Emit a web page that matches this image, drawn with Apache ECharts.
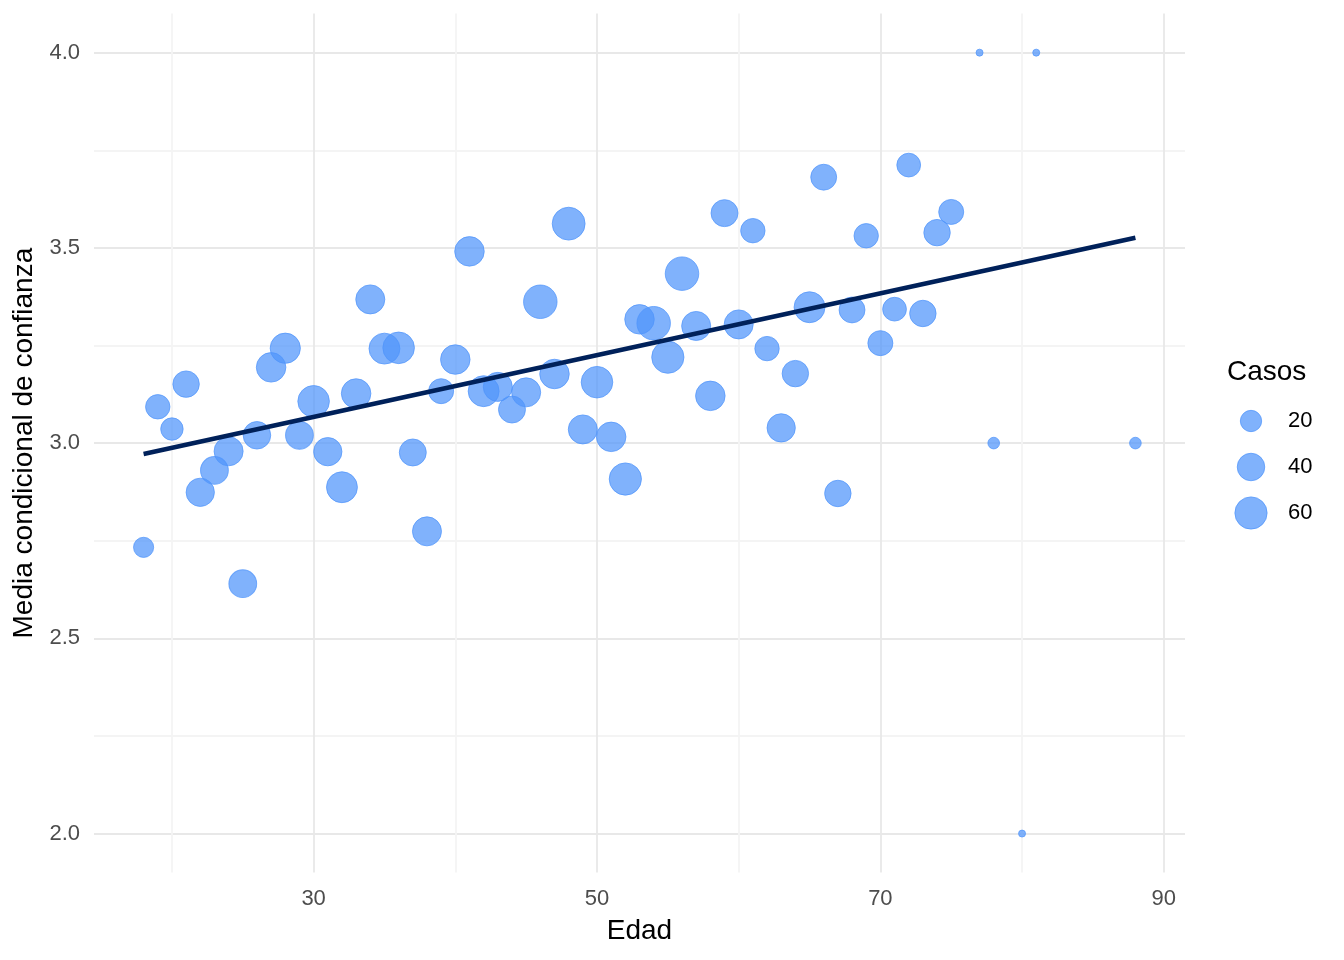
<!DOCTYPE html>
<html>
<head>
<meta charset="utf-8">
<title>Media condicional de confianza por edad</title>
<script src="https://cdn.jsdelivr.net/npm/echarts@6/dist/echarts.min.js"></script>
<style>
  html, body { margin: 0; padding: 0; background: #fff; }
  #chart { width: 1344px; height: 960px; }
</style>
</head>
<body>
<div id="chart"></div>
<script>
'use strict';

// Datos
// --------------------------------------------------------------------
const edad = [
  18, 19, 20, 21, 22, 23, 24, 25, 26, 27, 28, 29, 30, 31, 32, 33, 34, 35, 36, 37,
  38, 39, 40, 41, 42, 43, 44, 45, 46, 47, 48, 49, 50, 51, 52, 53, 54, 55, 56, 57,
  58, 59, 60, 61, 62, 63, 64, 65, 66, 67, 68, 69, 70, 71, 72, 73, 74, 75, 77, 78,
  80, 81, 88
];
const media = [
  2.733, 3.093, 3.036, 3.151, 2.874, 2.930, 2.979, 2.640, 3.020, 3.194,
  3.243, 3.020, 3.107, 2.978, 2.887, 3.127, 3.368, 3.242, 3.244, 2.976,
  2.774, 3.133, 3.214, 3.491, 3.133, 3.144, 3.086, 3.130, 3.362, 3.177,
  3.562, 3.035, 3.156, 3.016, 2.908, 3.317, 3.307, 3.220, 3.434, 3.300,
  3.121, 3.589, 3.304, 3.544, 3.242, 3.039, 3.178, 3.348, 3.681, 2.871,
  3.341, 3.531, 3.256, 3.343, 3.712, 3.332, 3.539, 3.592, 4.000, 3.000,
  2.000, 4.000, 3.000
];
const casos = [
  17, 29, 23, 36, 43, 41, 46, 41, 40, 48, 51, 41, 57, 43, 54, 48, 46, 54, 57, 38,
  46, 31, 48, 48, 54, 46, 38, 46, 66, 48, 63, 46, 57, 48, 60, 48, 66, 60, 66, 46,
  48, 38, 46, 29, 29, 43, 36, 54, 34, 36, 34, 29, 31, 27, 27, 36, 36, 31, 1, 3,
  1, 1, 3
];

// Recta de ajuste (geom_smooth lm)
const trendEdad = [18, 88];
const trendMedia = [2.972, 3.526];

// Leyenda de tamanos
const legendCasos = [20, 40, 60];

// Escala de tamano (area, como scale_size de ggplot)
const casosMin = Math.min(...casos);
const casosMax = Math.max(...casos);
const sizeRange = [7, 33.5];
function sizeOf(v) {
  const t = Math.max(0, (v - casosMin) / (casosMax - casosMin));
  return sizeRange[0] + (sizeRange[1] - sizeRange[0]) * Math.sqrt(t);
}

const bubbleColor = 'rgba(79, 148, 251, 0.72)';
const gridColor = '#ebebeb';
const fontFamily = '"Liberation Sans", Arial, sans-serif';

const chart = echarts.init(document.getElementById('chart'), null, { renderer: 'canvas' });

const option = {
  animation: false,
  backgroundColor: '#ffffff',
  textStyle: { fontFamily: fontFamily },
  title: {
    text: 'Casos',
    left: 1227,
    top: 358,
    padding: 0,
    textStyle: { fontSize: 28, fontWeight: 'normal', color: '#000', fontFamily: fontFamily }
  },
  grid: [
    { left: 94, right: 159, top: 13.6, bottom: 87.4 },
    { left: 1236, width: 30, top: 398, height: 138 }
  ],
  xAxis: [
    {
      type: 'value',
      min: 14.5,
      max: 91.5,
      splitNumber: 8,
      name: 'Edad',
      nameLocation: 'middle',
      nameGap: 45,
      nameTextStyle: { fontSize: 28, color: '#000' },
      axisLine: { show: false },
      axisTick: { show: false },
      axisLabel: {
        color: '#4d4d4d',
        fontSize: 22,
        margin: 15,
        showMinLabel: false,
        showMaxLabel: false,
        formatter: function (v) {
          return v % 20 === 10 ? String(v) : '';
        }
      },
      splitLine: {
        show: true,
        showMinLine: false,
        showMaxLine: false,
        lineStyle: { color: ['#f4f4f4', '#e8e8e8'], width: 1.8 }
      }
    },
    { gridIndex: 1, type: 'value', min: -1, max: 1, show: false }
  ],
  yAxis: [
    {
      type: 'value',
      min: 1.9,
      max: 4.1,
      splitNumber: 4,
      name: 'Media condicional de confianza',
      nameLocation: 'middle',
      nameGap: 48,
      nameTextStyle: { fontSize: 28, color: '#000' },
      axisLine: { show: false },
      axisTick: { show: false },
      axisLabel: {
        color: '#4d4d4d',
        fontSize: 22,
        margin: 14,
        showMinLabel: false,
        showMaxLabel: false,
        formatter: function (v) {
          return v.toFixed(1);
        }
      },
      splitLine: {
        show: true,
        showMinLine: false,
        showMaxLine: false,
        lineStyle: { color: '#e8e8e8', width: 1.8 }
      },
      minorTick: { show: false, splitNumber: 2 },
      minorSplitLine: { show: true, lineStyle: { color: '#f4f4f4', width: 1.8 } }
    },
    {
      gridIndex: 1,
      type: 'category',
      data: legendCasos.map(String),
      inverse: true,
      position: 'right',
      axisLine: { show: false },
      axisTick: { show: false },
      splitLine: { show: false },
      axisLabel: { color: '#000', fontSize: 22, margin: 22 }
    }
  ],
  series: [
    {
      name: 'Casos',
      type: 'scatter',
      data: edad.map(function (x, i) { return [x, media[i], casos[i]]; }),
      symbolSize: function (d) { return sizeOf(d[2]); },
      itemStyle: { color: bubbleColor, borderColor: bubbleColor, borderWidth: 1, opacity: 1 },
      z: 2
    },
    {
      name: 'Ajuste',
      type: 'line',
      data: trendEdad.map(function (x, i) { return [x, trendMedia[i]]; }),
      symbol: 'none',
      lineStyle: { color: '#00215a', width: 4.5 },
      z: 3
    },
    {
      name: 'LeyendaCasos',
      type: 'scatter',
      xAxisIndex: 1,
      yAxisIndex: 1,
      data: legendCasos.map(function (v, i) { return [0, i, v]; }),
      symbolSize: function (d) { return sizeOf(d[2]); },
      itemStyle: { color: bubbleColor, borderColor: bubbleColor, borderWidth: 1, opacity: 1 }
    }
  ]
};

chart.setOption(option);
window.addEventListener('resize', chart.resize);
</script>
</body>
</html>
